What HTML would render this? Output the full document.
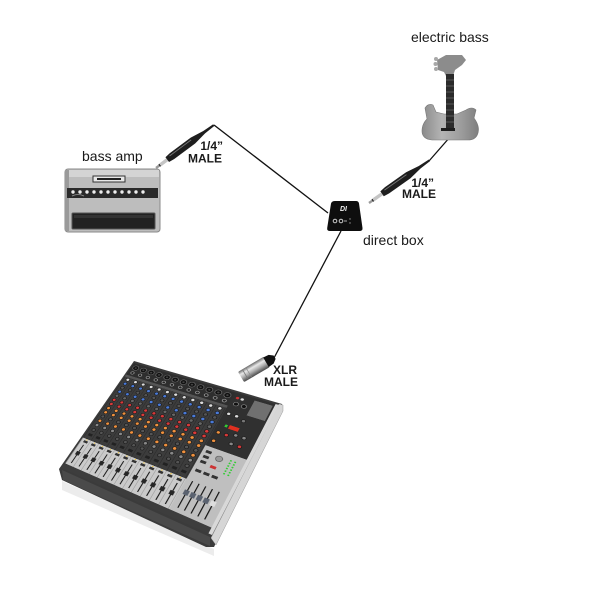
<!DOCTYPE html>
<html><head><meta charset="utf-8"><style>
html,body{margin:0;padding:0;background:#fff;}
body{width:600px;height:600px;position:relative;overflow:hidden;}
#scene{position:absolute;left:0;top:0;}
#mixface{position:absolute;left:0;top:0;width:200px;height:200px;transform-origin:0 0;
transform:matrix3d(0.52641,-0.07828,0,-0.0007118,-0.390045,0.298205,0,-0.0004846,0,0,1,0,134,363,0,1);}
#mixface svg{display:block;}
</style></head><body>
<svg id="scene" width="600" height="600" viewBox="0 0 600 600" xmlns="http://www.w3.org/2000/svg">
<defs>
<linearGradient id="silver" x1="0" y1="0" x2="0" y2="1">
<stop offset="0" stop-color="#6a6a6a"/><stop offset="0.3" stop-color="#e8e8e8"/><stop offset="0.6" stop-color="#b0b0b0"/><stop offset="1" stop-color="#4a4a4a"/>
</linearGradient>
<linearGradient id="gbody" x1="0" y1="0" x2="1" y2="0">
<stop offset="0" stop-color="#8a8a8a"/><stop offset="0.35" stop-color="#b4b4b4"/><stop offset="0.7" stop-color="#9c9c9c"/><stop offset="1" stop-color="#7e7e7e"/>
</linearGradient>
</defs>

<!-- connector lines -->
<line x1="214" y1="125" x2="328" y2="213" stroke="#111" stroke-width="1.3"/>
<line x1="429" y1="161" x2="450" y2="137" stroke="#111" stroke-width="1.3"/>
<line x1="341" y1="231" x2="274" y2="358" stroke="#111" stroke-width="1.3"/>

<!-- labels -->
<g font-family="'Liberation Sans', Arial, sans-serif" font-size="14" fill="#1a1a1a">
<text x="411" y="42">electric bass</text>
<text x="82" y="161">bass amp</text>
<text x="363" y="245">direct box</text>
</g>
<g font-family="'Liberation Sans', Arial, sans-serif" font-size="12" font-weight="bold" fill="#1a1a1a" text-anchor="end">
<text x="223" y="150">1/4”</text>
<text x="222" y="162.5">MALE</text>
<text x="434" y="187">1/4”</text>
<text x="436" y="198">MALE</text>
<text x="297" y="374">XLR</text>
<text x="298" y="386">MALE</text>
</g>

<!-- bass amp -->
<g>
<rect x="65" y="169" width="95" height="63" rx="3" fill="#bdbdbd" stroke="#8a8a8a" stroke-width="1"/>
<rect x="66" y="170" width="93" height="7" fill="#d4d4d4"/>
<rect x="65" y="170" width="4" height="61" fill="#9a9a9a"/>
<rect x="93" y="176" width="32" height="6" fill="#e8e8e8" stroke="#333" stroke-width="1"/>
<rect x="97" y="178" width="24" height="2" fill="#222"/>
<rect x="67" y="188" width="91" height="10" fill="#2a2a2a"/>
<g fill="#eee">
<circle cx="73" cy="192" r="1.7"/><circle cx="80" cy="192" r="1.7"/><circle cx="87" cy="192" r="1.7"/><circle cx="94" cy="192" r="1.7"/><circle cx="101" cy="192" r="1.7"/><circle cx="108" cy="192" r="1.7"/><circle cx="115" cy="192" r="1.7"/><circle cx="122" cy="192" r="1.7"/><circle cx="129" cy="192" r="1.7"/><circle cx="136" cy="192" r="1.7"/><circle cx="143" cy="192" r="1.7"/>
</g>
<path d="M72,196 Q78,193 84,196" stroke="#999" stroke-width="0.8" fill="none"/>
<rect x="72" y="213" width="83" height="16" rx="1" fill="#222" stroke="#555" stroke-width="1"/>
<rect x="74" y="215" width="79" height="3" fill="#333"/>
</g>

<!-- amp plug -->
<g transform="translate(156,168) rotate(-36.6)">
<rect x="0" y="-1.2" width="4" height="2.4" fill="#9a9a9a"/>
<rect x="4" y="-1.4" width="1.3" height="2.8" fill="#222"/>
<rect x="5.3" y="-1.7" width="9" height="3.4" fill="#c4c4c4"/>
<polygon points="14,-3 20,-3.7 46,-3.7 60,-1.5 72,-1 72,1 60,1.5 46,3.7 20,3.7 14,3" fill="#1e1e1e"/>
<line x1="18" y1="-1.6" x2="45" y2="-1.6" stroke="#777" stroke-width="0.9"/>
</g>

<!-- bass plug -->
<g transform="translate(369,203) rotate(-35.2)">
<rect x="0" y="-1.2" width="4" height="2.4" fill="#9a9a9a"/>
<rect x="4" y="-1.4" width="1.3" height="2.8" fill="#222"/>
<rect x="5.3" y="-1.7" width="11" height="3.4" fill="#c4c4c4"/>
<polygon points="16,-3 22,-3.7 48,-3.7 62,-1.5 74,-1 74,1 62,1.5 48,3.7 22,3.7 16,3" fill="#1e1e1e"/>
<line x1="20" y1="-1.6" x2="47" y2="-1.6" stroke="#777" stroke-width="0.9"/>
</g>

<!-- XLR plug -->
<g transform="translate(241,377) rotate(-30.5)">
<rect x="0" y="-6" width="30" height="12" rx="1.5" fill="url(#silver)"/>
<line x1="5" y1="-5.5" x2="5" y2="5.5" stroke="#777" stroke-width="0.8"/>
<line x1="9" y1="-5.5" x2="9" y2="5.5" stroke="#888" stroke-width="0.6"/>
<polygon points="29,-5.5 35,-5 39,-2 39,2 35,5 29,5.5" fill="#111"/>
</g>

<!-- direct box -->
<g>
<path d="M335,201 L356,201 Q358.5,201 359,203.5 L362.5,228 Q362.8,231 359.5,231 L330,231 Q326.8,231 327.2,228 L331,203.5 Q331.8,201 335,201 Z" fill="#0e0e0e"/>
<text x="340" y="211" font-family="'Liberation Sans', Arial, sans-serif" font-size="7" font-weight="bold" font-style="italic" fill="#eee">DI</text>
<circle cx="335" cy="221" r="1.8" fill="none" stroke="#ccc" stroke-width="1"/>
<circle cx="341" cy="221" r="1.8" fill="none" stroke="#ccc" stroke-width="1"/>
<line x1="344" y1="221" x2="347" y2="221" stroke="#aaa" stroke-width="1"/>
<circle cx="350" cy="219" r="0.7" fill="#999"/><circle cx="350" cy="223" r="0.7" fill="#999"/>
</g>

<!-- electric bass guitar -->
<g>
<path d="M437,60 L446,55 L462,55 L466,60 L462,65 L455,70 L453,76 L446,76 L444,72 L438,70 Z" fill="#8c8c8c"/>
<circle cx="436" cy="59" r="2" fill="#a8a8a8"/><circle cx="435.5" cy="64" r="2" fill="#a8a8a8"/><circle cx="436" cy="69" r="2" fill="#a8a8a8"/>
<path d="M425,108 Q428,103 433,105 L436,112 L444,114 L457,114 L466,110 Q472,106 476,110 L474,118 Q480,126 478,133 Q476,140 468,140 L432,140 Q422,139 422,131 Q422,124 427,119 Z" fill="url(#gbody)" stroke="#777" stroke-width="0.6"/>
<rect x="446" y="74" width="8" height="54" fill="#2b2b2b"/>
<g stroke="#777" stroke-width="0.6">
<line x1="446" y1="80" x2="454" y2="80"/><line x1="446" y1="86" x2="454" y2="86"/><line x1="446" y1="92" x2="454" y2="92"/><line x1="446" y1="98" x2="454" y2="98"/><line x1="446" y1="104" x2="454" y2="104"/><line x1="446" y1="110" x2="454" y2="110"/><line x1="446" y1="116" x2="454" y2="116"/><line x1="446" y1="122" x2="454" y2="122"/>
</g>
<rect x="441" y="128" width="14" height="3" fill="#1e1e1e"/>
</g>

<!-- mixer body -->
<polygon points="62,481 214,549 214,556 62,490" fill="#ececec"/>
<polygon points="134,361 282,404 281,411 214,547 206,547 62,480 59,469" fill="#3b3b3b"/>
<polygon points="62,470 210,537 210,546 63,480" fill="#4a4a4a"/>
<polygon points="279,404 283,405 283,411 216,545 211,538" fill="#d6d6d6" stroke="#999" stroke-width="0.5"/>
</svg>

<div id="mixface">
<svg width="200" height="200" viewBox="0 0 200 200" xmlns="http://www.w3.org/2000/svg">
<defs>
<pattern id="jk" x="1" y="0" width="12" height="24" patternUnits="userSpaceOnUse">
<rect width="12" height="24" fill="#2e2e2e"/>
<circle cx="6" cy="8" r="4.3" fill="#111" stroke="#777" stroke-width="0.8"/>
<circle cx="6" cy="8" r="1.5" fill="#444"/>
<circle cx="6" cy="18" r="2.4" fill="#222" stroke="#aaa" stroke-width="1"/>
</pattern>
<pattern id="kn" x="1" y="28" width="12" height="116" patternUnits="userSpaceOnUse">
<rect width="12" height="116" fill="#3c3c3c"/>
<rect x="11.3" width="0.7" height="116" fill="#2a2a2a"/>
<circle cx="6" cy="4" r="2.6" fill="#dcdcdc" stroke="#111" stroke-width="0.8"/>
<circle cx="6" cy="12" r="2.6" fill="#4a7ad8" stroke="#111" stroke-width="0.8"/>
<circle cx="6" cy="20" r="2.6" fill="#555" stroke="#111" stroke-width="0.8"/>
<circle cx="6" cy="28" r="2.6" fill="#4a7ad8" stroke="#111" stroke-width="0.8"/>
<circle cx="6" cy="36" r="2.6" fill="#666" stroke="#111" stroke-width="0.8"/>
<circle cx="6" cy="44" r="2.6" fill="#d83a3a" stroke="#111" stroke-width="0.8"/>
<circle cx="6" cy="52" r="2.6" fill="#d83a3a" stroke="#111" stroke-width="0.8"/>
<circle cx="6" cy="60" r="2.6" fill="#f0913e" stroke="#111" stroke-width="0.8"/>
<circle cx="6" cy="68" r="2.6" fill="#f0913e" stroke="#111" stroke-width="0.8"/>
<circle cx="6" cy="76" r="2.6" fill="#555" stroke="#111" stroke-width="0.8"/>
<circle cx="6" cy="84" r="2.6" fill="#f0913e" stroke="#111" stroke-width="0.8"/>
<circle cx="6" cy="92" r="2.6" fill="#888" stroke="#111" stroke-width="0.8"/>
<circle cx="6" cy="101" r="2.4" fill="#555" stroke="#111" stroke-width="0.8"/>
<rect x="3" y="108" width="6" height="4" fill="#222"/>
</pattern>
<pattern id="fd" x="1" y="146" width="12" height="46" patternUnits="userSpaceOnUse">
<rect width="12" height="46" fill="#cacaca"/>
<rect x="11.3" width="0.7" height="46" fill="#9a9a9a"/>
<rect x="3" y="3" width="6" height="3.5" fill="#333"/>
<circle cx="6" cy="1.5" r="0.9" fill="#f0c020"/>
<rect x="5.4" y="10" width="1.3" height="32" fill="#111"/>
<rect x="3.2" y="22" width="5.6" height="6" fill="#262626"/>
</pattern>
</defs>
<rect width="200" height="200" fill="#3a3a3a"/>
<rect x="0" y="0" width="146" height="24" fill="url(#jk)"/>
<rect x="0" y="24" width="146" height="4" fill="#555"/>
<rect x="0" y="28" width="146" height="118" fill="url(#kn)"/>
<rect x="0" y="146" width="146" height="46" fill="url(#fd)"/>
<!-- master section -->
<rect x="146" y="0" width="51" height="92" fill="#303030"/>
<rect x="172" y="4" width="22" height="26" fill="#707070"/>
<circle cx="152" cy="8" r="2" fill="#c33"/><circle cx="158" cy="8" r="2" fill="#ddd"/>
<circle cx="154" cy="18" r="3" fill="#111" stroke="#999" stroke-width="0.8"/>
<circle cx="164" cy="18" r="3" fill="#111" stroke="#999" stroke-width="0.8"/>
<circle cx="152" cy="36" r="2.4" fill="#ddd" stroke="#111" stroke-width="0.8"/>
<circle cx="162" cy="36" r="2.4" fill="#ddd" stroke="#111" stroke-width="0.8"/>
<circle cx="172" cy="40" r="2.4" fill="#777" stroke="#111" stroke-width="0.8"/>
<rect x="160" y="52" width="12" height="6" fill="#e03020"/>
<rect x="155" y="53" width="3" height="4" fill="#3c3"/>
<circle cx="152" cy="68" r="2.4" fill="#f0913e" stroke="#111" stroke-width="0.8"/>
<circle cx="162" cy="68" r="2.4" fill="#d83a3a" stroke="#111" stroke-width="0.8"/>
<circle cx="172" cy="64" r="2.4" fill="#888" stroke="#111" stroke-width="0.8"/>
<circle cx="182" cy="64" r="2.4" fill="#888" stroke="#111" stroke-width="0.8"/>
<circle cx="172" cy="78" r="2.4" fill="#888" stroke="#111" stroke-width="0.8"/>
<circle cx="182" cy="78" r="2.4" fill="#d83a3a" stroke="#111" stroke-width="0.8"/>
<circle cx="152" cy="82" r="2.4" fill="#f0913e" stroke="#111" stroke-width="0.8"/>
<rect x="146" y="92" width="51" height="100" fill="#bfbfbf"/>
<rect x="150" y="98" width="7" height="4" fill="#333"/><rect x="150" y="106" width="7" height="4" fill="#333"/><rect x="150" y="114" width="7" height="4" fill="#333"/>
<circle cx="168" cy="104" r="4" fill="#999" stroke="#555" stroke-width="0.8"/>
<rect x="163" y="116" width="7" height="4" fill="#c33"/>
<g fill="#3c3">
<rect x="180" y="100" width="2" height="2"/><rect x="180" y="104" width="2" height="2"/><rect x="180" y="108" width="2" height="2"/><rect x="180" y="112" width="2" height="2"/><rect x="180" y="116" width="2" height="2"/><rect x="180" y="120" width="2" height="2"/>
<rect x="185" y="100" width="2" height="2"/><rect x="185" y="104" width="2" height="2"/><rect x="185" y="108" width="2" height="2"/><rect x="185" y="112" width="2" height="2"/><rect x="185" y="116" width="2" height="2"/><rect x="185" y="120" width="2" height="2"/>
</g>
<rect x="150" y="128" width="7" height="4" fill="#333"/><rect x="160" y="128" width="7" height="4" fill="#333"/><rect x="170" y="128" width="7" height="4" fill="#333"/>
<g fill="#111">
<rect x="153" y="146" width="1.3" height="40"/><rect x="161" y="146" width="1.3" height="40"/><rect x="169" y="146" width="1.3" height="40"/><rect x="177" y="146" width="1.3" height="40"/><rect x="185" y="146" width="1.3" height="40"/>
</g>
<g fill="#5a6270">
<rect x="150.6" y="160" width="6" height="7"/><rect x="158.6" y="160" width="6" height="7"/><rect x="166.6" y="160" width="6" height="7"/><rect x="174.6" y="160" width="6" height="7"/>
</g>
<rect x="182.6" y="160" width="6" height="7" fill="#ddd"/>
<rect x="0" y="192" width="200" height="8" fill="#3d3d3d"/>
<rect x="196" y="0" width="4" height="200" fill="#d8d8d8"/>
</svg>
</div>
</body></html>
